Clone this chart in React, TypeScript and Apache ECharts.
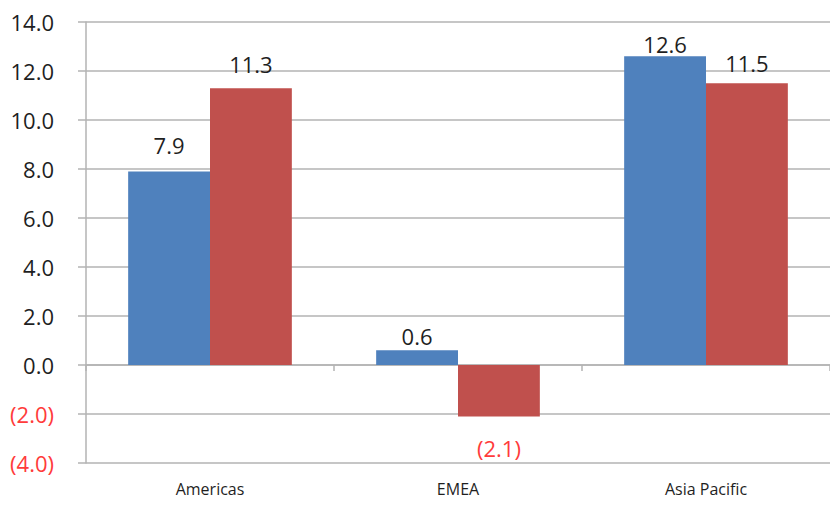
import React, { useEffect, useRef } from "react";
import * as echarts from "echarts";

const categories = ["Americas", "EMEA", "Asia Pacific"];
const blueValues = [7.9, 0.6, 12.6];
const redValues = [11.3, -2.1, 11.5];
const yMin = -4;
const yMax = 14;
const yStep = 2;

// label styling (gap between bar end and its value label, px)
const blueLabelGap = [15, 3, 1];
const redLabelGap = [13, 21, 9];

const BLUE = "#4F81BD";
const RED = "#C0504D";
const TEXT = "#1f1f1f";
const NEG = "#ff3b3b";
const GRID = "#b3b3b3";
const FONT = "'Open Sans', 'Liberation Sans', sans-serif";

const fmt = (v: number) =>
  v < 0 ? `(${Math.abs(v).toFixed(1)})` : v.toFixed(1);

function buildData(values: number[], gaps: number[]) {
  return values.map((v, i) => ({
    value: v,
    label: {
      position: v < 0 ? "bottom" : "top",
      distance: gaps[i],
      color: v < 0 ? NEG : TEXT,
    },
  }));
}

export default function App() {
  const ref = useRef<HTMLDivElement>(null);
  useEffect(() => {
    document.body.style.margin = "0";
    const chart = echarts.init(ref.current!, null, { renderer: "svg" });
    const labelCommon = {
      show: true,
      fontFamily: FONT,
      fontSize: 22,
      formatter: (p: any) => fmt(p.value),
    };
    chart.setOption({
      animation: false,
      grid: { left: 86, right: 0, top: 22, bottom: 52 },
      xAxis: [
        {
          type: "category",
          data: categories,
          position: "bottom",
          axisLine: { show: false, onZero: false },
          axisTick: { show: false },
          axisLabel: {
            margin: 18,
            fontFamily: FONT,
            fontSize: 16,
            color: TEXT,
          },
          splitLine: { show: false },
        },
        {
          type: "category",
          data: categories,
          position: "top",
          axisLine: { show: true, onZero: true, lineStyle: { color: GRID, width: 1.5 } },
          axisTick: { show: true, inside: true, length: 6, lineStyle: { color: GRID, width: 1.5 } },
          axisLabel: { show: false },
          splitLine: { show: false },
        },
      ],
      yAxis: {
        type: "value",
        min: yMin,
        max: yMax,
        interval: yStep,
        axisLine: { show: true, lineStyle: { color: GRID, width: 1.5 } },
        axisTick: { show: true, length: 8, lineStyle: { color: GRID, width: 1.5 } },
        axisLabel: {
          margin: 32,
          fontFamily: FONT,
          fontSize: 22,
          formatter: (v: number) => (v < 0 ? `{neg|${fmt(v)}}` : `{pos|${fmt(v)}}`),
          rich: {
            neg: { color: NEG, fontFamily: FONT, fontSize: 22 },
            pos: { color: TEXT, fontFamily: FONT, fontSize: 22 },
          },
        },
        splitLine: { show: true, lineStyle: { color: GRID, width: 1.5 } },
      },
      series: [
        {
          type: "bar",
          xAxisIndex: 0,
          barCategoryGap: "34%",
          barGap: "0%",
          itemStyle: { color: BLUE },
          label: labelCommon,
          data: buildData(blueValues, blueLabelGap),
        },
        {
          type: "bar",
          xAxisIndex: 0,
          barCategoryGap: "34%",
          barGap: "0%",
          itemStyle: { color: RED },
          label: labelCommon,
          data: buildData(redValues, redLabelGap),
        },
      ],
    });
    return () => chart.dispose();
  }, []);
  return <div ref={ref} style={{ width: 830, height: 515 }} />;
}
